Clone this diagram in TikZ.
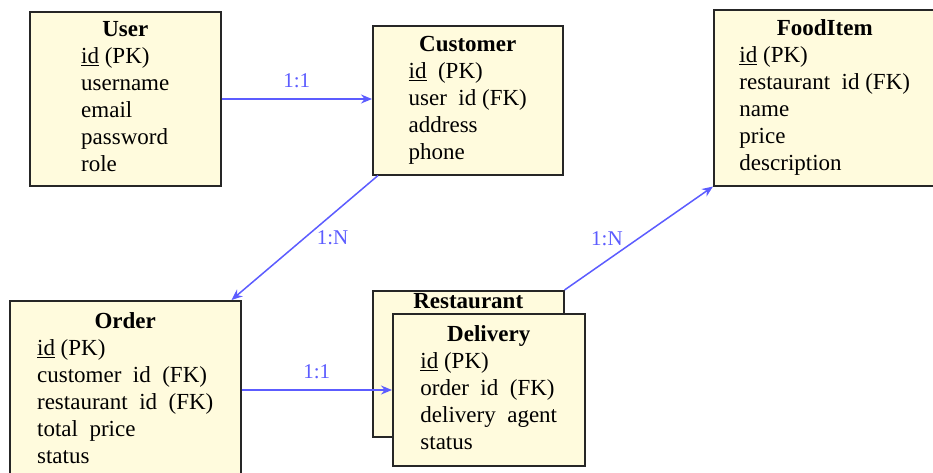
\documentclass[tikz,border=0pt]{standalone}
\usepackage{fontspec}
\setmainfont{Liberation Serif}
\usepackage{tikz}
\usetikzlibrary{arrows.meta, positioning}

\definecolor{entityfill}{RGB}{255,251,221}
\definecolor{relblue}{RGB}{92,92,255}

\tikzset{
  entity/.style={draw=black!85, fill=entityfill, line width=1.5pt,
    inner sep=0pt, anchor=north west},
  rel/.style={-{Stealth[length=11pt, width=9pt]}, relblue, line width=1.5pt},
  card/.style={text=relblue, font=\fontsize{21}{24}\selectfont}
}

\newcommand{\enttab}[2]{{\fontsize{23}{27}\selectfont
  \begin{tabular}{@{}l@{}}\multicolumn{1}{@{}c@{}}{\textbf{#1}}\\ #2\end{tabular}}}

\begin{document}
\begin{tikzpicture}[x=1pt, y=-1pt]
            \clip (0,0) rectangle (933,472);
            \fill[white] (0,0) rectangle (933,472); %background
            \node[entity, minimum width=191pt, minimum height=174pt] (user) at (29,11)
              {\enttab{User}{\underline{id} (PK)\\ username\\ email\\ password\\ role}};
            \node[entity, minimum width=190pt, minimum height=149pt] (cust) at (372,25)
              {\raisebox{2pt}{\enttab{Customer}{\underline{id}\ \ (PK)\\ user\ \ id (FK)\\ address\\ phone}}};
            \node[entity, minimum width=222pt, minimum height=176pt] (food) at (713,9)
              {\enttab{FoodItem}{\underline{id} (PK)\\ restaurant\ \ id (FK)\\ name\\ price\\ description}};
            \node[entity, minimum width=231pt, minimum height=180pt] (order) at (9,300)
              {\raisebox{4pt}{\enttab{Order}{\underline{id} (PK)\\ customer\ \ id\ \ (FK)\\ restaurant\ \ id\ \ (FK)\\ total\ \ price\\ status}}};
            \node[entity, minimum width=191pt, minimum height=146pt] (rest) at (372,290) {}; %hinten
            \node[below=3pt of rest.north, inner sep=0pt, font=\fontsize{23}{27}\selectfont\bfseries] (resttitle) {Restaurant};
            \node[entity, minimum width=192pt, minimum height=152pt] (deliv) at (392,313)
              {\enttab{Delivery}{\underline{id} (PK)\\ order\ \ id\ \ (FK)\\ delivery\ \ agent\\ status}};
            % Beziehungen
            \draw[rel] (user.east |- 0,99) -- (cust.west |- 0,99) node[card, midway, above=7pt]{1:1};
            \draw[rel] ([xshift=6pt]cust.south west) -- ([xshift=-10pt]order.north east) node[card, midway, right=8pt]{1:N};
            \draw[rel] (rest.north east) -- (food.south west) node[card, midway, left=12pt]{1:N};
            \draw[rel] (order.east |- 0,390) -- (deliv.west |- 0,390) node[card, midway, above=7pt]{1:1};
        \end{tikzpicture}
\end{document}
